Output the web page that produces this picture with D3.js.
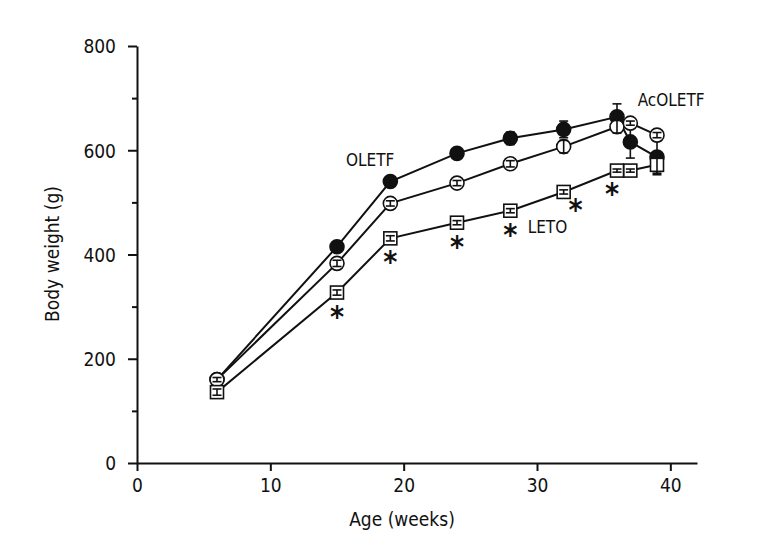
<!DOCTYPE html>
<html>
<head>
<meta charset="utf-8">
<script src="https://cdn.jsdelivr.net/npm/d3@7"></script>
<style>
  body { margin: 0; background: #fff; }
  #chart svg { display: block; }
  text { font-family: "Liberation Sans Narrow", "DejaVu Sans Condensed", "Liberation Sans", sans-serif; fill: #111; }
</style>
</head>
<body>
<div id="chart"></div>
<script>
// body weight by age - three rat strains
const weeks = [6, 15, 19, 24, 28, 32, 36, 37, 39];

const oletf     = [160, 415, 540, 594, 623, 640, 664, 616, 587];
const oletfErr  = [4, 6, 6, 8, 12, 16, 25, 31, 31];
const acOletf    = [160, 383, 498, 537, 574, 607, 645, 652, 629];
const acOletfErr = [4, 6, 5, 5, 6, 12, 12, 4, 5];
const leto      = [136, 327, 431, 461, 484, 520, 561, 561, 572];
const letoErr   = [6, 5, 5, 4, 4, 4, 3, 3, 19];

const starWeeks = [15, 19, 24, 28, 32, 36];

const xTicks = [0, 10, 20, 30, 40];
const yTicks = [0, 200, 400, 600, 800];
const yMinor = [100, 300, 500, 700];

function drawChart() {
    const width = 768, height = 552;
    const svg = d3.select("#chart").append("svg")
        .attr("width", width).attr("height", height);

    const x = d3.scaleLinear().domain([0, 42]).range([137, 697]);
    const y = d3.scaleLinear().domain([0, 800]).range([463, 46]);

    // axes
    const yAxis = svg.append("g").attr("transform", `translate(${x(0)},0)`)
        .call(d3.axisLeft(y).tickValues(yTicks).tickSize(9).tickSizeOuter(0).tickPadding(12))
        .style("font-size", "19px");
    svg.append("g").attr("transform", `translate(${x(0)},0)`)
        .call(d3.axisLeft(y).tickValues(yMinor).tickSize(5).tickFormat("").tickSizeOuter(0))
        .call(g => g.select(".domain").remove());

    svg.append("g").attr("transform", `translate(0,${y(0)})`)
        .call(d3.axisBottom(x).tickValues(xTicks).tickSize(8).tickSizeOuter(0).tickPadding(8))
        .style("font-size", "19px");

    svg.selectAll(".domain, .tick line").attr("stroke", "#111").attr("stroke-width", 2);
    svg.selectAll(".tick text").attr("fill", "#111");
    yAxis.selectAll(".tick text").attr("dy", "0.36em");

    svg.append("text").attr("x", 402).attr("y", 526).attr("text-anchor", "middle")
        .style("font-size", "19px").text("Age (weeks)");
    svg.append("text").attr("transform", "translate(59,254) rotate(-90)").attr("text-anchor", "middle")
        .style("font-size", "19px").text("Body weight (g)");

    const series = [
        { name: "OLETF", vals: oletf, err: oletfErr, shape: "circle", fill: "#111" },
        { name: "AcOLETF", vals: acOletf, err: acOletfErr, shape: "circle", fill: "#fff" },
        { name: "LETO", vals: leto, err: letoErr, shape: "square", fill: "#fff" }
    ];

    const line = d3.line().x(d => x(d.w)).y(d => y(d.v));

    series.forEach(s => {
        s.pts = weeks.map((w, i) => ({ w, v: s.vals[i], e: s.err[i] }));
        svg.append("path").datum(s.pts).attr("d", line)
            .attr("fill", "none").attr("stroke", "#111").attr("stroke-width", 2);
    });

    series.forEach(s => {
        const g = svg.append("g");
        if (s.shape === "circle") {
            g.selectAll("circle").data(s.pts).enter().append("circle")
                .attr("cx", d => x(d.w)).attr("cy", d => y(d.v)).attr("r", 7)
                .attr("fill", s.fill).attr("stroke", "#111").attr("stroke-width", 1.6);
        } else {
            g.selectAll("rect").data(s.pts).enter().append("rect")
                .attr("x", d => x(d.w) - 6.5).attr("y", d => y(d.v) - 6.5)
                .attr("width", 13).attr("height", 13)
                .attr("fill", s.fill).attr("stroke", "#111").attr("stroke-width", 1.6);
        }
        // error bars on top of marker
        const eb = g.selectAll(".eb").data(s.pts).enter().append("g").attr("class", "eb")
            .attr("stroke", "#111").attr("stroke-width", 1.6);
        eb.append("line").attr("x1", d => x(d.w)).attr("x2", d => x(d.w))
            .attr("y1", d => y(d.v + d.e)).attr("y2", d => y(d.v - d.e));
        eb.append("line").attr("x1", d => x(d.w) - 4.5).attr("x2", d => x(d.w) + 4.5)
            .attr("y1", d => y(d.v + d.e)).attr("y2", d => y(d.v + d.e));
        eb.append("line").attr("x1", d => x(d.w) - 4.5).attr("x2", d => x(d.w) + 4.5)
            .attr("y1", d => y(d.v - d.e)).attr("y2", d => y(d.v - d.e));
    });

    // significance stars under LETO points
    const starShift = { 32: [12, -6], 36: [-5, -1] };
    svg.selectAll(".star").data(starWeeks).enter().append("text").attr("class", "star")
        .attr("x", w => x(w) + (starShift[w] ? starShift[w][0] : 0))
        .attr("y", w => y(leto[weeks.indexOf(w)]) + 34 + (starShift[w] ? starShift[w][1] : 0))
        .attr("text-anchor", "middle")
        .style("font-size", "30px").style("font-weight", "bold")
        .text("*");

    // series labels
    svg.append("text").attr("x", x(15.67)).attr("y", y(569)).style("font-size", "17px").text("OLETF");
    svg.append("text").attr("x", x(37.55)).attr("y", y(685)).style("font-size", "17px").text("AcOLETF");
    svg.append("text").attr("x", x(29.3)).attr("y", y(441)).style("font-size", "17px").text("LETO");
}

drawChart();
</script>
</body>
</html>
